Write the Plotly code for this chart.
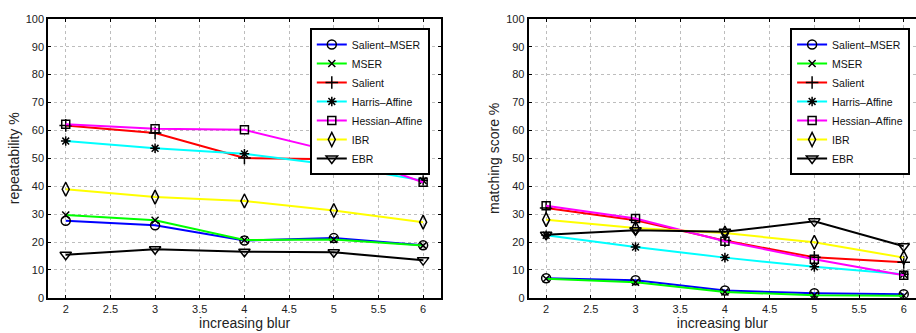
import plotly.graph_objects as go

blur = [2, 3, 4, 5, 6]
names = ["Salient\u2013MSER", "MSER", "Salient", "Harris\u2013Affine", "Hessian\u2013Affine", "IBR", "EBR"]
colors = ["#0000ff", "#00ff00", "#ff0000", "#00ffff", "#ff00ff", "#ffff00", "#000000"]
symbols = ["circle-open", "x-thin-open", "cross-thin-open", "asterisk-open",
           "square-open", "diamond-tall-open", "triangle-down-open"]
marker_sizes = [9, 7, 9, 8, 8, 10, 10]

repeatability = [
    [27.6, 26.0, 20.5, 21.4, 18.8],
    [29.7, 27.8, 20.7, 20.9, 18.7],
    [61.8, 59.1, 50.1, 49.7, 46.1],
    [56.2, 53.6, 51.6, 47.6, 42.0],
    [62.2, 60.6, 60.2, 52.4, 41.4],
    [38.9, 36.1, 34.7, 31.3, 27.1],
    [15.4, 17.4, 16.5, 16.3, 13.5],
]
matching = [
    [7.0, 6.3, 2.6, 1.6, 1.3],
    [6.8, 5.6, 2.1, 0.9, 0.7],
    [32.2, 27.8, 20.5, 14.5, 12.7],
    [22.4, 18.2, 14.4, 11.1, 8.4],
    [33.0, 28.4, 20.3, 13.8, 8.1],
    [28.0, 25.0, 23.2, 19.9, 14.4],
    [22.6, 24.2, 23.7, 27.4, 18.5],
]

FONT = "Liberation Sans, Arial, Helvetica, sans-serif"
W, H = 916, 333

fig = go.Figure()
for i, n in enumerate(names):
    fig.add_trace(go.Scatter(
        x=blur, y=repeatability[i], name=n, mode="lines+markers",
        line=dict(color=colors[i], width=2),
        marker=dict(symbol=symbols[i], size=marker_sizes[i], color="black",
                    line=dict(color="black", width=1.5)),
        xaxis="x", yaxis="y", legend="legend"))
for i, n in enumerate(names):
    fig.add_trace(go.Scatter(
        x=blur, y=matching[i], name=n, mode="lines+markers",
        line=dict(color=colors[i], width=2),
        marker=dict(symbol=symbols[i], size=marker_sizes[i], color="black",
                    line=dict(color="black", width=1.5)),
        xaxis="x2", yaxis="y2", legend="legend2"))

ydom = [1 - 302.7 / H, 1 - 13.3 / H]
xdom1 = [48.3 / W, 441.0 / W]
xdom2 = [528.7 / W, 1.0]

xt = dict(tickvals=[2, 2.5, 3, 3.5, 4, 4.5, 5, 5.5, 6],
          ticktext=["2", "2.5", "3", "3.5", "4", "4.5", "5", "5.5", "6"],
          ticks="inside", ticklen=3, tickwidth=1, tickcolor="black",
          showline=True, linecolor="black", linewidth=2,
          showgrid=True, gridcolor="#bdbdbd", griddash="dot", gridwidth=1,
          zeroline=False, tickfont=dict(size=11, color="#222", family=FONT),
          title=dict(text="increasing blur", font=dict(size=14, color="#222", family=FONT), standoff=1))
yt = dict(range=[0, 100], tickvals=list(range(0, 101, 10)),
          ticks="inside", ticklen=3, tickwidth=1, tickcolor="black",
          showline=True, linecolor="black", linewidth=2,
          showgrid=True, gridcolor="#bdbdbd", griddash="dot", gridwidth=1,
          zeroline=False, tickfont=dict(size=11, color="#222", family=FONT))

leg = dict(bgcolor="white", bordercolor="black", borderwidth=1.8,
           font=dict(size=10.5, color="#111", family=FONT),
           xanchor="right", yanchor="top", y=1 - 23 / H, itemwidth=30,
           tracegroupgap=0, traceorder="normal")

fig.update_layout(
    width=W, height=H, margin=dict(l=0, r=0, t=0, b=0),
    paper_bgcolor="white", plot_bgcolor="white",
    font=dict(family=FONT),
    xaxis=dict(domain=xdom1, range=[1.805, 6.2], mirror="ticks", anchor="y", **xt),
    yaxis=dict(domain=ydom, mirror="ticks", anchor="x",
               title=dict(text="repeatability %", font=dict(size=14, color="#222", family=FONT), standoff=3), **yt),
    xaxis2=dict(domain=xdom2, range=[1.805, 1.805 + (W - 528.7) / 89.4], mirror="ticks", anchor="y2", **xt),
    yaxis2=dict(domain=ydom, mirror=False, anchor="x2",
                title=dict(text="matching score %", font=dict(size=14, color="#222", family=FONT), standoff=3), **yt),
    legend=dict(x=430 / W, **leg),
    legend2=dict(x=910.3 / W, **leg),
)

fig.write_html("out.html")
